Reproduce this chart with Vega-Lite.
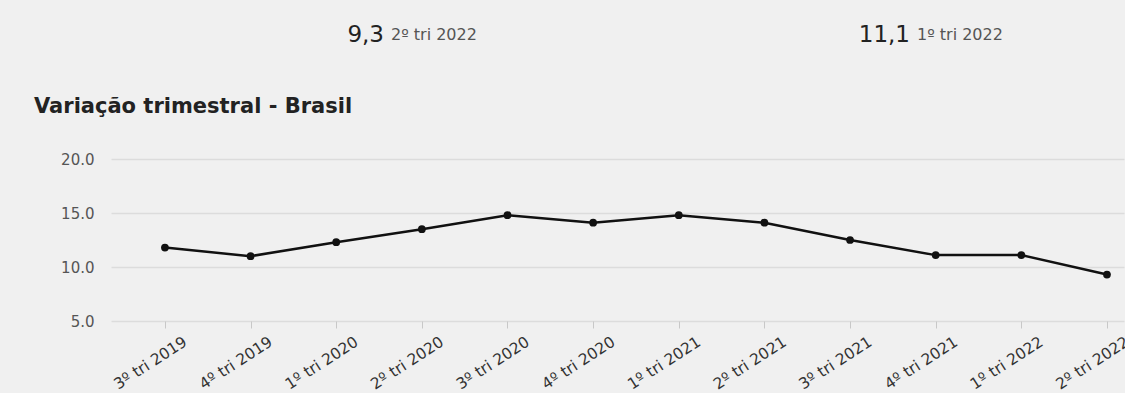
{
  "$schema": "https://vega.github.io/schema/vega-lite/v6.json",
  "background": "#f0f0f0",
  "padding": {"top": 20, "left": 34, "right": 0, "bottom": 0},
  "config": {
    "font": "DejaVu Sans",
    "view": {"stroke": null},
    "concat": {"spacing": 46}
  },
  "datasets": {
    "kpis": [
      {"card": "A", "valor": "9,3", "periodo": "2º tri 2022"},
      {"card": "B", "valor": "11,1", "periodo": "1º tri 2022"}
    ],
    "serie": [
      {"trimestre": "3º tri 2019", "taxa": 11.8},
      {"trimestre": "4º tri 2019", "taxa": 11.0},
      {"trimestre": "1º tri 2020", "taxa": 12.3},
      {"trimestre": "2º tri 2020", "taxa": 13.5},
      {"trimestre": "3º tri 2020", "taxa": 14.8},
      {"trimestre": "4º tri 2020", "taxa": 14.1},
      {"trimestre": "1º tri 2021", "taxa": 14.8},
      {"trimestre": "2º tri 2021", "taxa": 14.1},
      {"trimestre": "3º tri 2021", "taxa": 12.5},
      {"trimestre": "4º tri 2021", "taxa": 11.1},
      {"trimestre": "1º tri 2022", "taxa": 11.1},
      {"trimestre": "2º tri 2022", "taxa": 9.3}
    ]
  },
  "vconcat": [
    {
      "width": 1013,
      "height": 30,
      "data": {"name": "kpis"},
      "layer": [
        {
          "mark": {"type": "text", "align": "right", "baseline": "middle", "fontSize": 23, "color": "#222", "dx": -3},
          "encoding": {
            "x": {"field": "card", "type": "nominal", "scale": {"range": [276, 802], "padding": 0}, "axis": null},
            "text": {"field": "valor"}
          }
        },
        {
          "mark": {"type": "text", "align": "left", "baseline": "middle", "fontSize": 16, "color": "#555", "dx": 4},
          "encoding": {
            "x": {"field": "card", "type": "nominal", "scale": {"range": [276, 802], "padding": 0}, "axis": null},
            "text": {"field": "periodo"}
          }
        }
      ]
    },
    {
      "width": 1013,
      "height": 162,
      "data": {"name": "serie"},
      "title": {
        "text": "Variação trimestral - Brasil",
        "anchor": "start",
        "frame": "group",
        "dx": -77,
        "offset": 35,
        "fontSize": 21,
        "fontWeight": "bold",
        "color": "#222",
        "font": "DejaVu Sans"
      },
      "encoding": {
        "x": {
          "field": "trimestre",
          "type": "ordinal",
          "sort": null,
          "scale": {"type": "point", "padding": 0.4144, "align": 0.76},
          "axis": {
            "title": null,
            "labelAngle": -33,
            "labelAlign": "right",
            "labelBaseline": "top",
            "labelFontSize": 15.5,
            "labelColor": "#333",
            "labelPadding": 6,
            "labelOffset": 16,
            "domain": false,
            "grid": false,
            "ticks": true,
            "tickColor": "#c8c8c8",
            "tickSize": 7
          }
        },
        "y": {
          "field": "taxa",
          "type": "quantitative",
          "scale": {"domain": [5, 20], "nice": false, "zero": false},
          "axis": {
            "title": null,
            "values": [5, 10, 15, 20],
            "format": ".1f",
            "labelFontSize": 15,
            "labelColor": "#555",
            "labelPadding": 17,
            "domain": false,
            "ticks": false,
            "gridColor": "#dcdcdc",
            "gridWidth": 1.5
          }
        }
      },
      "layer": [
        {"mark": {"type": "line", "color": "#111", "strokeWidth": 2.5}},
        {"mark": {"type": "point", "filled": true, "color": "#111", "size": 60, "opacity": 1}}
      ]
    }
  ]
}
